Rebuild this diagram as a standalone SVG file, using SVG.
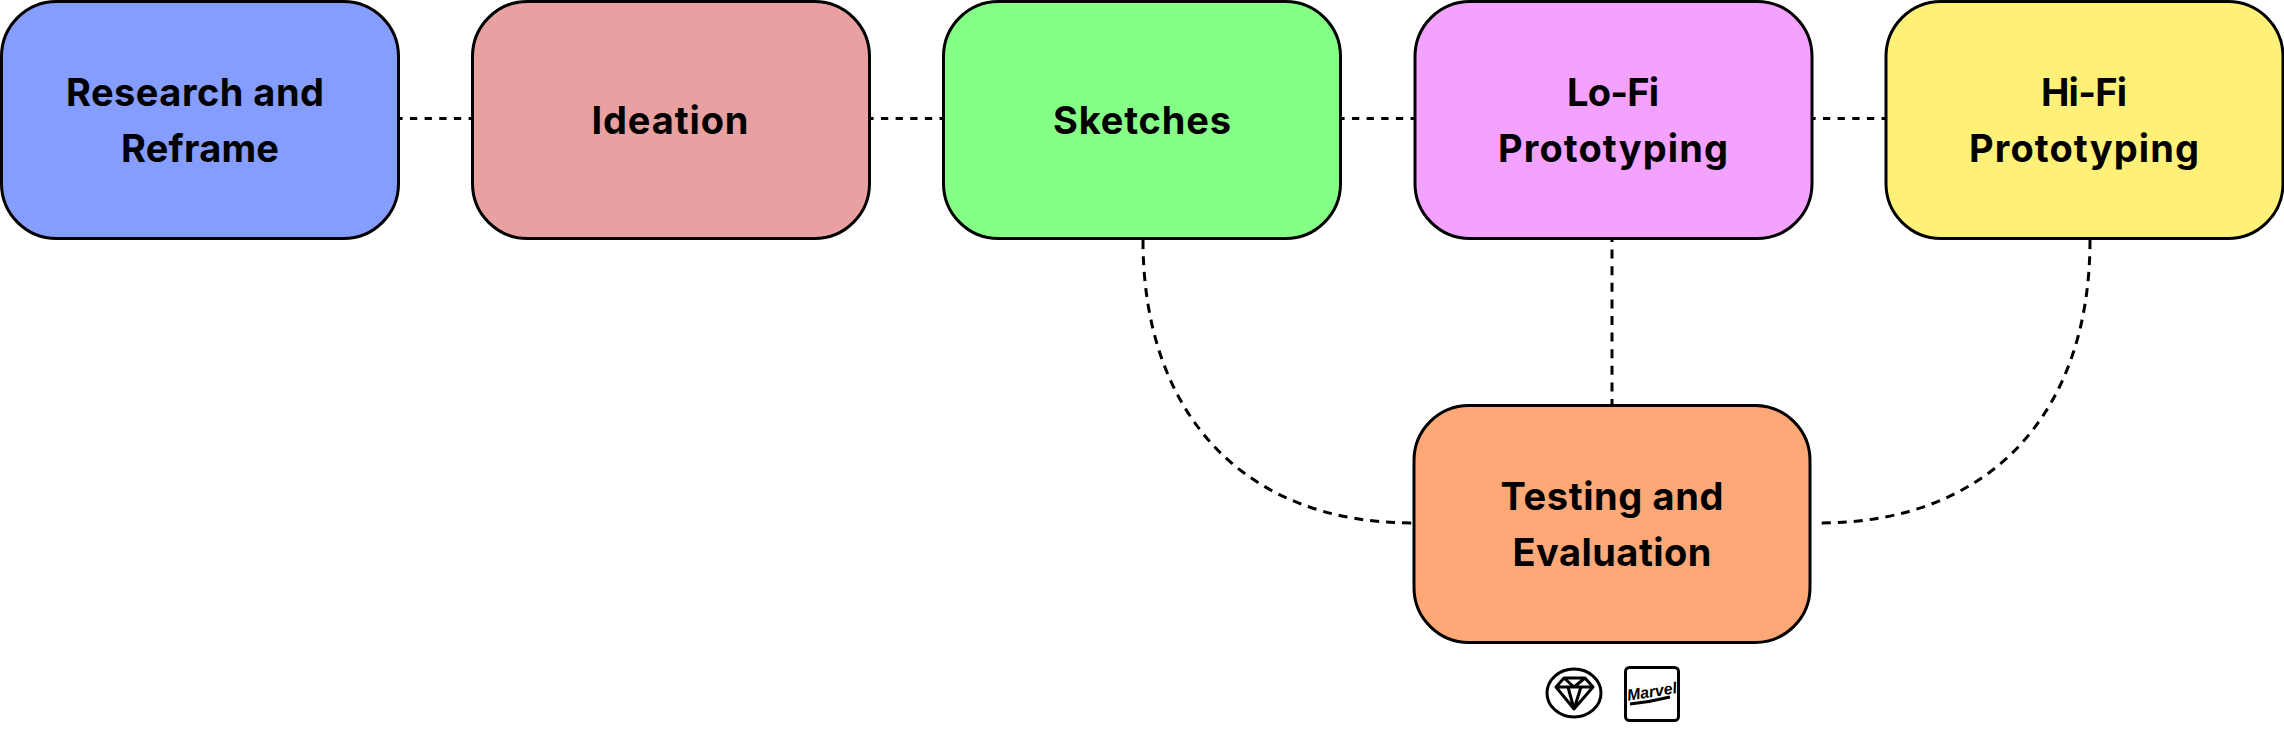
<svg xmlns="http://www.w3.org/2000/svg" width="2284" height="730" viewBox="0 0 2284 730">
<style>
.n{stroke:#000;stroke-width:3}
.t{font-family:"Inter","Liberation Sans",sans-serif;font-weight:700;font-size:38px;text-anchor:middle;fill:#000}
.c{fill:none;stroke:#000;stroke-width:3;stroke-dasharray:9 7}
.h{stroke-dasharray:7.3 7.35}
.v{stroke-dasharray:9 7.6}
.i{fill:none;stroke:#000;stroke-width:3;stroke-linejoin:round}
</style>
<rect width="2284" height="730" fill="#fff"/>
<g id="connectors">
<path class="c h" d="M395.3 118.5H475"/>
<path class="c h" d="M866.3 118.5H946"/>
<path class="c h" d="M1337.3 118.5H1417"/>
<path class="c h" d="M1808.3 118.5H1888"/>
<path class="c" d="M1143 240C1143 415 1245 523 1412 523"/>
<path class="c v" d="M1612 233V406"/>
<path class="c" d="M2090 240C2090 415 1988 523 1820 523"/>
</g>
<g id="research"><rect class="n" x="1.5" y="1.5" width="397" height="237" rx="55" fill="#859dff"/><text class="t" x="195" y="106" textLength="258" lengthAdjust="spacing">Research and</text><text class="t" x="200" y="162" textLength="158" lengthAdjust="spacing">Reframe</text></g>
<g id="ideation"><rect class="n" x="472.5" y="1.5" width="397" height="237" rx="55" fill="#e8a0a0"/><text class="t" x="670" y="134" textLength="157" lengthAdjust="spacing">Ideation</text></g>
<g id="sketches"><rect class="n" x="943.5" y="1.5" width="397" height="237" rx="55" fill="#85ff85"/><text class="t" x="1142" y="134" textLength="178" lengthAdjust="spacing">Sketches</text></g>
<g id="lofi"><rect class="n" x="1415" y="1.5" width="397" height="237" rx="55" fill="#f3a3ff"/><text class="t" x="1613" y="106" textLength="92" lengthAdjust="spacing">Lo-Fi</text><text class="t" x="1613" y="162" textLength="230" lengthAdjust="spacing">Prototyping</text></g>
<g id="hifi"><rect class="n" x="1886" y="1.5" width="397" height="237" rx="55" fill="#fff178"/><text class="t" x="2084" y="106" textLength="86" lengthAdjust="spacing">Hi-Fi</text><text class="t" x="2084" y="162" textLength="230" lengthAdjust="spacing">Prototyping</text></g>
<g id="testing"><rect class="n" x="1414" y="405.5" width="396" height="237" rx="55" fill="#ffa877"/><text class="t" x="1612" y="510" textLength="223" lengthAdjust="spacing">Testing and</text><text class="t" x="1612" y="566" textLength="199" lengthAdjust="spacing">Evaluation</text></g>
<g id="sketch-icon"><ellipse class="i" cx="1574" cy="693" rx="27" ry="24"/><path class="i" d="M1574 709L1556 687L1564 678H1585L1593 687ZM1556 687H1593M1564 678L1574 687L1585 678M1568 687L1574 709L1581 687"/></g>
<g id="marvel-icon"><rect class="i" x="1625.5" y="667.5" width="53" height="53" rx="4"/><text x="1652" y="697" font-family="'Liberation Sans',sans-serif" font-style="italic" font-weight="700" font-size="16" text-anchor="middle" textLength="50" lengthAdjust="spacingAndGlyphs" transform="rotate(-9 1652 692)">Marvel</text><path class="i" d="M1630 704Q1650 702 1670 697"/></g>
</svg>
